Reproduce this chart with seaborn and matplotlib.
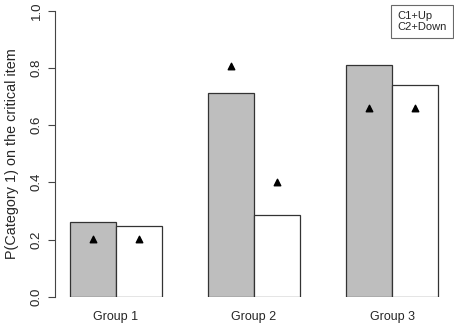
import matplotlib
matplotlib.use('Agg')
import matplotlib.pyplot as plt
import seaborn as sns
import pandas as pd

# values
groups = ['Group 1', 'Group 2', 'Group 3']
conditions = ['C1+Up', 'C2+Down']
bar_c1 = [0.262, 0.713, 0.811]
bar_c2 = [0.248, 0.287, 0.740]
tri_c1 = [0.202, 0.808, 0.660]
tri_c2 = [0.202, 0.402, 0.660]
y_ticks = [0.0, 0.2, 0.4, 0.6, 0.8, 1.0]

df = pd.DataFrame({
    'Group': groups * 2,
    'Condition': [conditions[0]] * 3 + [conditions[1]] * 3,
    'Value': bar_c1 + bar_c2,
})

sns.set_style('white')
plt.rcParams['font.family'] = ['Liberation Sans', 'DejaVu Sans']

fig = plt.figure(figsize=(4.54, 3.25), dpi=100)
ax = fig.add_axes([55 / 454, (325 - 296.7) / 325, (453 - 55) / 454, (296.7 - 10.7) / 325])

sns.barplot(data=df, x='Group', y='Value', hue='Condition', order=groups,
            hue_order=conditions, palette=['#bebebe', 'white'], width=2 / 3,
            edgecolor='#333333', linewidth=0.9, saturation=1, legend=False, ax=ax)

# triangles at the centre of each bar
bars = [p for p in ax.patches][:6]
tri_vals = tri_c1 + tri_c2
xs = [p.get_x() + p.get_width() / 2 for p in bars]
ax.scatter(xs, tri_vals, marker='^', s=22, color='black', zorder=5, clip_on=False)

ax.set_xlim(-1 / 3 - 0.32 / 3, 2 + 1 / 3 + 0.32 / 3)
ax.set_ylim(0, 1)
ax.set_yticks(y_ticks)
ax.set_yticklabels([f'{t:.1f}' for t in y_ticks])
ax.tick_params(axis='y', left=True, length=5, width=0.8, color='#444444', pad=4,
               labelsize=9.5, labelrotation=90)
for lab in ax.get_yticklabels():
    lab.set_va('center')
ax.tick_params(axis='x', bottom=False, length=0, pad=10, labelsize=9)
ax.set_xlabel('')
ax.set_ylabel('P(Category 1) on the critical item', fontsize=10.4, labelpad=8)

for s in ['top', 'right', 'bottom']:
    ax.spines[s].set_visible(False)
ax.spines['left'].set_color('#444444')
ax.spines['left'].set_linewidth(0.8)

# text-only legend box in the upper right corner
leg = ax.legend(handles=[plt.Line2D([], [], linestyle='none') for _ in conditions],
                labels=conditions, loc='upper right', bbox_to_anchor=(1.0, 1.02),
                borderaxespad=0, frameon=True, fancybox=False, fontsize=8,
                handlelength=0, handletextpad=0, borderpad=0.55, labelspacing=0.1)
leg.get_frame().set_edgecolor('#444444')
leg.get_frame().set_linewidth(0.8)

fig.savefig('out.png', dpi=100)
